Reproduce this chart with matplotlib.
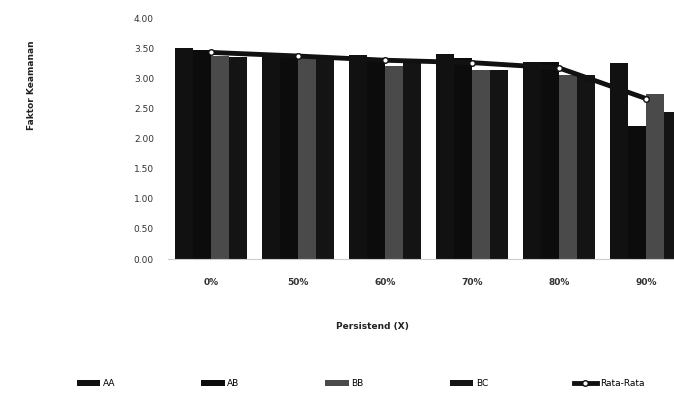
import numpy as np
import matplotlib.pyplot as plt

categories = ["0%", "50%", "60%", "70%", "80%", "90%"]
aa = [3.52, 3.42, 3.40, 3.42, 3.28, 3.27]
ab = [3.48, 3.37, 3.32, 3.35, 3.28, 2.22]
bb = [3.38, 3.38, 3.22, 3.15, 3.07, 2.75]
bc = [3.37, 3.35, 3.28, 3.15, 3.07, 2.45]
rata = [3.44, 3.38, 3.31, 3.27, 3.18, 2.67]

series = [("AA", aa, "#111111"), ("AB", ab, "#0c0c0c"),
          ("BB", bb, "#4a4a4a"), ("BC", bc, "#141414")]

fig = plt.figure(figsize=(6.74, 3.97), dpi=100)
ax = fig.add_axes([0.249, 0.3476, 0.7745, 0.605])

x = np.arange(len(categories))
w = 0.207
for i, (name, vals, col) in enumerate(series):
    ax.bar(x + (i - 1.5) * w, vals, w, color=col, label=name)

ax.plot(x, rata, color="#111111", lw=3.5, marker="o", ms=4,
        mfc="white", mec="#111111", label="Rata-Rata")

ax.set_xlim(-0.5, len(categories) - 0.5)
ax.set_ylim(0, 4)
ax.set_yticks(np.arange(0, 4.01, 0.5))
ax.set_yticklabels([f"{v:.2f}" for v in np.arange(0, 4.01, 0.5)],
                   fontsize=6.5, color="#333333")
ax.set_xticks(x)
ax.set_xticklabels(categories, fontsize=6.5, color="#333333", fontweight="bold")
ax.tick_params(axis="both", length=0)
ax.tick_params(axis="y", pad=10)
ax.tick_params(axis="x", pad=14)
for s in ["top", "right", "left"]:
    ax.spines[s].set_visible(False)
ax.spines["bottom"].set_color("#cccccc")

fig.text(372 / 674, 1 - 327 / 397, "Persistend (X)", ha="center", va="center",
         fontsize=6.5, fontweight="bold", color="#222222")
fig.text(32 / 674, 1 - 85 / 397, "Faktor Keamanan", ha="center", va="center",
         rotation=90, fontsize=6.5, fontweight="bold", color="#222222")

handles, labels = ax.get_legend_handles_labels()
order = [1, 2, 3, 4, 0]
fig.legend([handles[i] for i in order], [labels[i] for i in order],
           loc="center", bbox_to_anchor=(0.535, 1 - 384 / 397), ncol=5,
           frameon=False, fontsize=6.5, columnspacing=9.5, handlelength=2.6,
           handleheight=0.6, handletextpad=0.3)

fig.savefig("out.png", dpi=100)
